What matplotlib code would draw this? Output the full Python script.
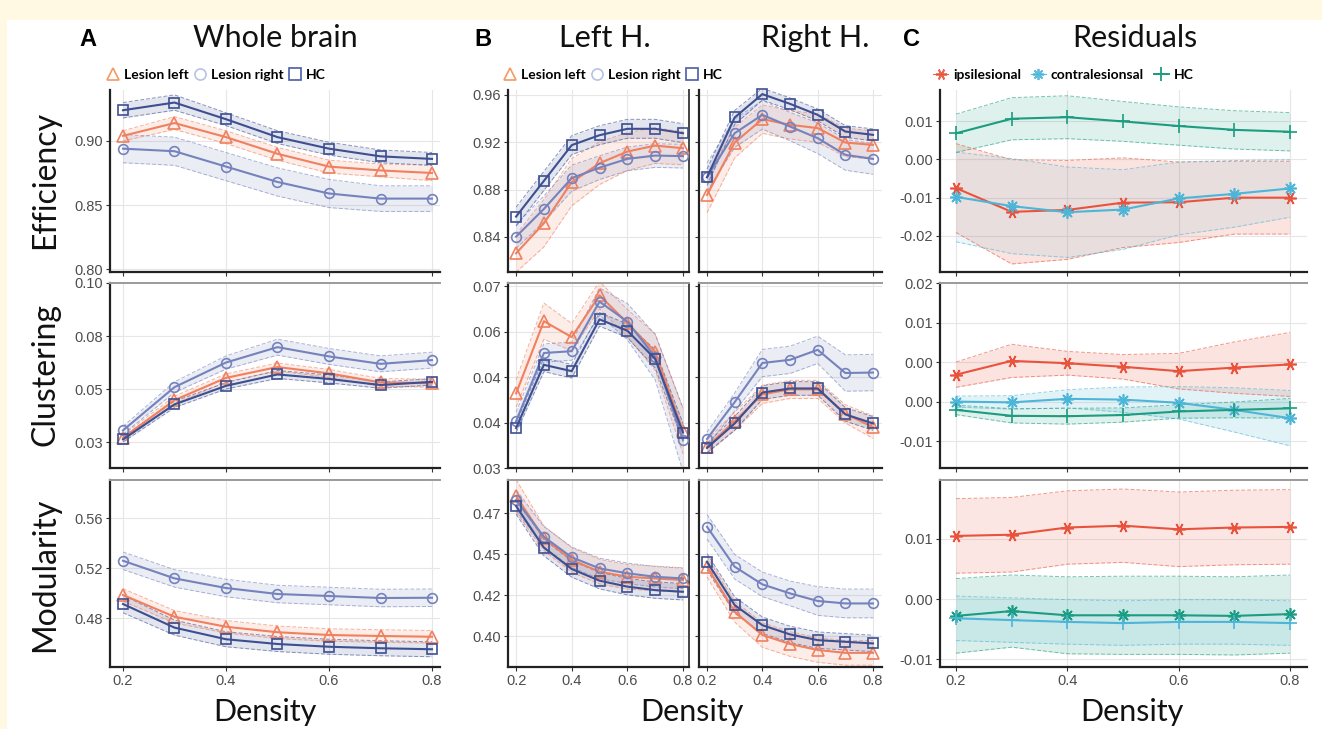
import matplotlib
matplotlib.use("Agg")
import matplotlib.pyplot as plt
from matplotlib.lines import Line2D
from matplotlib.patches import Rectangle

# density steps shared by every panel
density = [0.2, 0.3, 0.4, 0.5, 0.6, 0.7, 0.8]

# ---- A: whole brain ----
wb_eff_ll = [0.904, 0.914, 0.903, 0.890, 0.880, 0.877, 0.875]
wb_eff_lr = [0.894, 0.892, 0.880, 0.868, 0.859, 0.855, 0.855]
wb_eff_hc = [0.924, 0.930, 0.917, 0.903, 0.894, 0.888, 0.886]
wb_eff_ll_ci = [0.004, 0.005, 0.005, 0.005, 0.005, 0.005, 0.006]
wb_eff_lr_ci = [0.011, 0.011, 0.011, 0.011, 0.011, 0.010, 0.010]
wb_eff_hc_ci = [0.006, 0.006, 0.005, 0.005, 0.005, 0.005, 0.005]

wb_clu_ll = [0.0366, 0.0508, 0.0592, 0.0633, 0.0609, 0.0575, 0.0572]
wb_clu_lr = [0.0394, 0.0557, 0.0650, 0.0708, 0.0673, 0.0645, 0.0659]
wb_clu_hc = [0.0360, 0.0492, 0.0562, 0.0605, 0.0588, 0.0565, 0.0577]
wb_clu_ll_ci = [0.0010, 0.0015, 0.0015, 0.0015, 0.0015, 0.0015, 0.0015]
wb_clu_lr_ci = [0.0015, 0.0020, 0.0025, 0.0030, 0.0030, 0.0030, 0.0030]
wb_clu_hc_ci = [0.0010, 0.0012, 0.0012, 0.0015, 0.0015, 0.0012, 0.0012]

wb_mod_ll = [0.4984, 0.4810, 0.4730, 0.4686, 0.4664, 0.4656, 0.4650]
wb_mod_lr = [0.5258, 0.5117, 0.5040, 0.4992, 0.4976, 0.4960, 0.4962]
wb_mod_hc = [0.4912, 0.4723, 0.4630, 0.4592, 0.4570, 0.4558, 0.4550]
wb_mod_ll_ci = [0.005, 0.005, 0.005, 0.005, 0.005, 0.005, 0.005]
wb_mod_lr_ci = [0.007, 0.007, 0.007, 0.007, 0.007, 0.007, 0.007]
wb_mod_hc_ci = [0.007, 0.006, 0.006, 0.006, 0.006, 0.006, 0.006]

# ---- B: left hemisphere ----
lh_eff_ll = [0.8262, 0.8516, 0.8863, 0.9023, 0.9122, 0.9172, 0.9150]
lh_eff_lr = [0.8403, 0.8637, 0.8897, 0.8986, 0.9060, 0.9088, 0.9083]
lh_eff_hc = [0.8572, 0.8874, 0.9176, 0.9260, 0.9314, 0.9314, 0.9277]
lh_eff_ll_ci = [0.016, 0.020, 0.020, 0.018, 0.016, 0.015, 0.014]
lh_eff_lr_ci = [0.010, 0.011, 0.011, 0.010, 0.010, 0.010, 0.010]
lh_eff_hc_ci = [0.008, 0.008, 0.008, 0.008, 0.008, 0.008, 0.008]

lh_clu_ll = [0.0464, 0.0623, 0.0588, 0.0680, 0.0619, 0.0555, 0.0381]
lh_clu_lr = [0.0403, 0.0553, 0.0557, 0.0666, 0.0622, 0.0544, 0.0362]
lh_clu_hc = [0.0388, 0.0527, 0.0513, 0.0627, 0.0602, 0.0540, 0.0378]
lh_clu_ll_ci = [0.003, 0.004, 0.003, 0.003, 0.003, 0.004, 0.005]
lh_clu_lr_ci = [0.002, 0.002, 0.002, 0.003, 0.004, 0.005, 0.007]
lh_clu_hc_ci = [0.0010, 0.0015, 0.0015, 0.0015, 0.0015, 0.0020, 0.0020]

lh_mod_ll = [0.4733, 0.4527, 0.4421, 0.4364, 0.4339, 0.4331, 0.4323]
lh_mod_lr = [0.4713, 0.4534, 0.4434, 0.4380, 0.4356, 0.4339, 0.4331]
lh_mod_hc = [0.4684, 0.4481, 0.4377, 0.4320, 0.4291, 0.4274, 0.4266]
lh_mod_ll_ci = [0.008, 0.006, 0.006, 0.006, 0.006, 0.006, 0.006]
lh_mod_lr_ci = [0.005, 0.005, 0.005, 0.005, 0.005, 0.005, 0.005]
lh_mod_hc_ci = [0.004, 0.004, 0.004, 0.004, 0.004, 0.004, 0.004]

# ---- B: right hemisphere ----
rh_eff_ll = [0.8755, 0.9198, 0.9396, 0.9348, 0.9320, 0.9198, 0.9178]
rh_eff_lr = [0.8905, 0.9277, 0.9432, 0.9333, 0.9235, 0.9094, 0.9060]
rh_eff_hc = [0.8905, 0.9410, 0.9607, 0.9525, 0.9432, 0.9291, 0.9263]
rh_eff_ll_ci = [0.015, 0.013, 0.012, 0.012, 0.012, 0.012, 0.012]
rh_eff_lr_ci = [0.012, 0.012, 0.012, 0.012, 0.013, 0.013, 0.013]
rh_eff_hc_ci = [0.007, 0.006, 0.005, 0.005, 0.005, 0.005, 0.005]

rh_clu_ll = [0.0347, 0.0403, 0.0462, 0.0473, 0.0473, 0.0419, 0.0390]
rh_clu_lr = [0.0364, 0.0445, 0.0531, 0.0538, 0.0560, 0.0509, 0.0510]
rh_clu_hc = [0.0344, 0.0398, 0.0466, 0.0475, 0.0475, 0.0418, 0.0398]
rh_clu_ll_ci = [0.0015, 0.0020, 0.0020, 0.0020, 0.0020, 0.0020, 0.0025]
rh_clu_lr_ci = [0.0015, 0.0020, 0.0030, 0.0030, 0.0030, 0.0040, 0.0040]
rh_clu_hc_ci = [0.0010, 0.0015, 0.0015, 0.0015, 0.0015, 0.0015, 0.0015]

rh_mod_ll = [0.4388, 0.4168, 0.4055, 0.4011, 0.3982, 0.3968, 0.3968]
rh_mod_lr = [0.4583, 0.4388, 0.4302, 0.4258, 0.4221, 0.4209, 0.4209]
rh_mod_hc = [0.4412, 0.4201, 0.4103, 0.4058, 0.4030, 0.4022, 0.4014]
rh_mod_ll_ci = [0.005, 0.005, 0.006, 0.006, 0.006, 0.006, 0.006]
rh_mod_lr_ci = [0.006, 0.006, 0.006, 0.006, 0.007, 0.007, 0.007]
rh_mod_hc_ci = [0.004, 0.004, 0.004, 0.004, 0.004, 0.004, 0.004]

# ---- C: residuals ----
res_eff_ipsi = [-0.0075, -0.0137, -0.0132, -0.0113, -0.0112, -0.0100, -0.0100]
res_eff_contra = [-0.0098, -0.0122, -0.0138, -0.0131, -0.0102, -0.0090, -0.0076]
res_eff_hc = [0.0068, 0.0106, 0.0110, 0.0099, 0.0087, 0.0077, 0.0072]
res_eff_ipsi_ci = [0.0116, 0.0136, 0.0129, 0.0117, 0.0105, 0.0095, 0.0095]
res_eff_contra_ci = [0.0117, 0.0124, 0.0118, 0.0104, 0.0095, 0.0087, 0.0075]
res_eff_hc_ci = [0.0050, 0.0055, 0.0056, 0.0052, 0.0050, 0.0050, 0.0050]

res_clu_ipsi = [-0.0032, 0.0003, -0.0003, -0.0012, -0.0023, -0.0014, -0.0006]
res_clu_contra = [-0.0100, -0.0102, -0.0093, -0.0095, -0.0103, -0.0121, -0.0142]
res_clu_hc = [-0.0121, -0.0136, -0.0137, -0.0134, -0.0125, -0.0121, -0.0117]
res_clu_ipsi_ci = [0.0032, 0.0042, 0.0030, 0.0031, 0.0045, 0.0065, 0.0081]
res_clu_contra_ci = [0.0014, 0.0017, 0.0023, 0.0032, 0.0041, 0.0056, 0.0070]
res_clu_hc_ci = [0.0012, 0.0018, 0.0020, 0.0018, 0.0017, 0.0020, 0.0025]

res_mod_ipsi = [0.0105, 0.0107, 0.0119, 0.0122, 0.0116, 0.0119, 0.0120]
res_mod_contra = [-0.0028, -0.0020, -0.0027, -0.0027, -0.0027, -0.0028, -0.0025]
res_mod_hc = [-0.0032, -0.0035, -0.0038, -0.0040, -0.0038, -0.0038, -0.0040]
res_mod_ipsi_ci = [0.0062, 0.0062, 0.0061, 0.0061, 0.0062, 0.0062, 0.0062]
res_mod_contra_ci = [0.0062, 0.0060, 0.0064, 0.0065, 0.0065, 0.0065, 0.0065]
res_mod_hc_ci = [0.0037, 0.0037, 0.0037, 0.0037, 0.0037, 0.0037, 0.0037]

# axis ticks (labels copied as printed in the figure)
wb_eff_ticks, wb_eff_labels = [0.80, 0.85, 0.90], ["0.80", "0.85", "0.90"]
wb_clu_ticks, wb_clu_labels = [0.035, 0.055, 0.075, 0.095], ["0.03", "0.05", "0.08", "0.10"]
wb_mod_ticks, wb_mod_labels = [0.48, 0.52, 0.56], ["0.48", "0.52", "0.56"]
h_eff_ticks, h_eff_labels = [0.84, 0.88, 0.92, 0.96], ["0.84", "0.88", "0.92", "0.96"]
h_clu_ticks, h_clu_labels = [0.03, 0.04, 0.05, 0.06, 0.07], ["0.03", "0.04", "0.04", "0.06", "0.07"]
h_mod_ticks, h_mod_labels = [0.405, 0.425, 0.445, 0.465], ["0.40", "0.42", "0.45", "0.47"]
res_eff_ticks, res_eff_labels = [-0.02, -0.01, 0.0, 0.01], ["-0.02", "-0.01", "0.00", "0.01"]
res_clu_ticks, res_clu_labels = [-0.02, -0.01, 0.0, 0.01, 0.02], ["-0.01", "0.00", "0.00", "0.01", "0.02"]
res_mod_ticks, res_mod_labels = [-0.01, 0.0, 0.01], ["-0.01", "0.00", "0.01"]

# colours
c_ll, c_lr, c_hc = "#F0805F", "#7582BC", "#3D4F90"
c_ipsi, c_contra, c_res_hc = "#E9533D", "#4DB5D8", "#1C9C80"

W, H = 1322, 729
fig = plt.figure(figsize=(W / 100, H / 100), dpi=100)
fig.patch.set_facecolor("#FFF8E2")
fig.add_artist(Rectangle((7 / W, 0), 1 - 7 / W, 1 - 20 / H, transform=fig.transFigure,
                         facecolor="white", edgecolor="none", zorder=-10))


def rect(x0, y0, x1, y1):
    return [x0 / W, 1 - y1 / H, (x1 - x0) / W, (y1 - y0) / H]


cols = {"A": (110, 440, 0.1748, 0.8155), "BL": (508, 689, 0.171, 0.8216),
        "BR": (699, 882, 0.171, 0.8325), "C": (940, 1307, 0.1713, 0.8305)}
rows = [(90, 272), (283, 468), (480, 667)]


def make_ax(col, row, ylim, ticks, labels, show_ylab=True):
    x0, x1, xl, xr = cols[col]
    y0, y1 = rows[row]
    ax = fig.add_axes(rect(x0, y0, x1, y1))
    ax.set_xlim(xl, xr)
    ax.set_ylim(*ylim)
    ax.set_xticks([0.2, 0.4, 0.6, 0.8])
    ax.set_yticks(ticks)
    ax.set_yticklabels(labels if show_ylab else [])
    if row == 2:
        ax.set_xticklabels(["0.2", "0.4", "0.6", "0.8"])
    else:
        ax.set_xticklabels([])
    ax.grid(True, color="#E6E6E6", lw=0.8)
    ax.set_axisbelow(True)
    ax.tick_params(length=3, width=0.8, color="#333333", labelcolor="#4D4D4D",
                   labelsize=10.5, pad=2)
    for lab in ax.get_xticklabels() + ax.get_yticklabels():
        lab.set_family("Liberation Sans")
    for s in ("left", "bottom"):
        ax.spines[s].set_color("#222222")
        ax.spines[s].set_linewidth(1.6)
    ax.spines["right"].set_visible(col == "BL")
    ax.spines["right"].set_color("#444444")
    ax.spines["right"].set_linewidth(1.4)
    if row == 0:
        ax.spines["top"].set_visible(False)
    else:
        ax.spines["top"].set_color("#9A9A9A")
        ax.spines["top"].set_linewidth(1.4)
    return ax


def series(ax, y, ci, color, marker, ms=7, fill=0.14, mec=None):
    lo = [v - c for v, c in zip(y, ci)]
    hi = [v + c for v, c in zip(y, ci)]
    ax.fill_between(density, lo, hi, color=color, alpha=fill, lw=0, zorder=1)
    ax.plot(density, lo, color=color, ls=(0, (4, 2)), lw=0.7, alpha=0.6, zorder=2)
    ax.plot(density, hi, color=color, ls=(0, (4, 2)), lw=0.7, alpha=0.6, zorder=2)
    ax.plot(density, y, color=color, lw=1.5, marker=marker, ms=ms, mfc="none",
            mec=mec or color, mew=1.2, zorder=3, clip_on=False)


def group_panel(ax, ll, ll_ci, lr, lr_ci, hc, hc_ci):
    series(ax, ll, ll_ci, c_ll, "^", ms=8)
    series(ax, lr, lr_ci, c_lr, "o")
    series(ax, hc, hc_ci, c_hc, "s")


# A column
ax = make_ax("A", 0, (0.7977, 0.9398), wb_eff_ticks, wb_eff_labels)
group_panel(ax, wb_eff_ll, wb_eff_ll_ci, wb_eff_lr, wb_eff_lr_ci, wb_eff_hc, wb_eff_hc_ci)
ax = make_ax("A", 1, (0.0252, 0.095), wb_clu_ticks, wb_clu_labels)
group_panel(ax, wb_clu_ll, wb_clu_ll_ci, wb_clu_lr, wb_clu_lr_ci, wb_clu_hc, wb_clu_hc_ci)
ax = make_ax("A", 2, (0.4408, 0.5904), wb_mod_ticks, wb_mod_labels)
group_panel(ax, wb_mod_ll, wb_mod_ll_ci, wb_mod_lr, wb_mod_lr_ci, wb_mod_hc, wb_mod_hc_ci)

# B columns
ax = make_ax("BL", 0, (0.8104, 0.9642), h_eff_ticks, h_eff_labels)
group_panel(ax, lh_eff_ll, lh_eff_ll_ci, lh_eff_lr, lh_eff_lr_ci, lh_eff_hc, lh_eff_hc_ci)
ax = make_ax("BL", 1, (0.03, 0.0707), h_clu_ticks, h_clu_labels)
group_panel(ax, lh_clu_ll, lh_clu_ll_ci, lh_clu_lr, lh_clu_lr_ci, lh_clu_hc, lh_clu_hc_ci)
ax = make_ax("BL", 2, (0.3899, 0.4811), h_mod_ticks, h_mod_labels)
group_panel(ax, lh_mod_ll, lh_mod_ll_ci, lh_mod_lr, lh_mod_lr_ci, lh_mod_hc, lh_mod_hc_ci)

ax = make_ax("BR", 0, (0.8104, 0.9642), h_eff_ticks, h_eff_labels, False)
group_panel(ax, rh_eff_ll, rh_eff_ll_ci, rh_eff_lr, rh_eff_lr_ci, rh_eff_hc, rh_eff_hc_ci)
ax = make_ax("BR", 1, (0.03, 0.0707), h_clu_ticks, h_clu_labels, False)
group_panel(ax, rh_clu_ll, rh_clu_ll_ci, rh_clu_lr, rh_clu_lr_ci, rh_clu_hc, rh_clu_hc_ci)
ax = make_ax("BR", 2, (0.3899, 0.4811), h_mod_ticks, h_mod_labels, False)
group_panel(ax, rh_mod_ll, rh_mod_ll_ci, rh_mod_lr, rh_mod_lr_ci, rh_mod_hc, rh_mod_hc_ci)

# C column
m_ipsi, m_contra = (6, 2, 30), (8, 2, 0)
ax = make_ax("C", 0, (-0.0294, 0.0181), res_eff_ticks, res_eff_labels)
series(ax, res_eff_ipsi, res_eff_ipsi_ci, c_ipsi, m_ipsi, ms=9, fill=0.16)
series(ax, res_eff_contra, res_eff_contra_ci, c_contra, m_contra, ms=9, fill=0.10)
series(ax, res_eff_hc, res_eff_hc_ci, c_res_hc, "+", ms=10, fill=0.14)
ax = make_ax("C", 1, (-0.0268, 0.02), res_clu_ticks, res_clu_labels)
series(ax, res_clu_ipsi, res_clu_ipsi_ci, c_ipsi, m_ipsi, ms=9, fill=0.16)
series(ax, res_clu_contra, res_clu_contra_ci, c_contra, m_contra, ms=9, fill=0.16)
series(ax, res_clu_hc, res_clu_hc_ci, c_res_hc, "+", ms=10, fill=0.14)
ax = make_ax("C", 2, (-0.0113, 0.0198), res_mod_ticks, res_mod_labels)
series(ax, res_mod_ipsi, res_mod_ipsi_ci, c_ipsi, m_ipsi, ms=9, fill=0.14)
# in this row the asterisk line is drawn in teal and the plus line in blue
series(ax, res_mod_contra, res_mod_contra_ci, c_res_hc, m_contra, ms=9, fill=0.16)
series(ax, res_mod_hc, res_mod_hc_ci, c_contra, "+", ms=10, fill=0.12)

# legends
leg_font = {"family": "Lato", "weight": "bold", "size": 10}
grp_handles = [
    Line2D([], [], ls="none", marker="^", ms=9, mfc="none", mec="#F39A62", mew=1.2),
    Line2D([], [], ls="none", marker="o", ms=8, mfc="none", mec="#B5C3E6", mew=1.2),
    Line2D([], [], ls="none", marker="s", ms=8, mfc="none", mec="#4A5EA6", mew=1.2),
]
grp_labels = ["Lesion left", "Lesion right", "HC"]
for xpx in (100, 497):
    fig.legend(grp_handles, grp_labels, loc="center left",
               bbox_to_anchor=(xpx / W, 1 - 75 / H), ncol=3, frameon=False,
               prop=leg_font, handlelength=0.9, handletextpad=0.3,
               columnspacing=0.4, borderpad=0)
res_handles = [
    Line2D([], [], color=c_ipsi, lw=0.8, alpha=0.9, marker=m_ipsi, ms=8, mew=1.3),
    Line2D([], [], color=c_contra, lw=0.8, alpha=0.9, marker=m_contra, ms=8, mew=1.3),
    Line2D([], [], color=c_res_hc, lw=1.4, marker="+", ms=10, mew=1.3),
]
fig.legend(res_handles, ["ipsilesional", "contralesionsal", "HC"], loc="center left",
           bbox_to_anchor=(926 / W, 1 - 75 / H), ncol=3, frameon=False,
           prop=leg_font, handlelength=1.1, handletextpad=0.35,
           columnspacing=0.7, borderpad=0)

# titles and labels
def ftext(x, y, s, **kw):
    fig.text(x / W, 1 - y / H, s, ha="center", va="center", **kw)


big = {"family": "Lato", "size": 22, "color": "#111111"}
ftext(88, 39, "A", family="Liberation Sans", weight="bold", size=17)
ftext(483, 39, "B", family="Liberation Sans", weight="bold", size=17)
ftext(912, 39, "C", family="Liberation Sans", weight="bold", size=17)
ftext(275, 38, "Whole brain", **big)
ftext(605, 38, "Left H.", **big)
ftext(815, 38, "Right H.", **big)
ftext(1135, 38, "Residuals", **big)
ftext(45, 180, "Efficiency", rotation=90, family="Lato", size=23, color="#111111")
ftext(45, 375, "Clustering", rotation=90, family="Lato", size=23, color="#111111")
ftext(45, 575, "Modularity", rotation=90, family="Lato", size=23, color="#111111")
ftext(265, 712, "Density", **big)
ftext(692, 712, "Density", **big)
ftext(1132, 712, "Density", **big)

fig.savefig("out.png", dpi=100, facecolor=fig.get_facecolor())
